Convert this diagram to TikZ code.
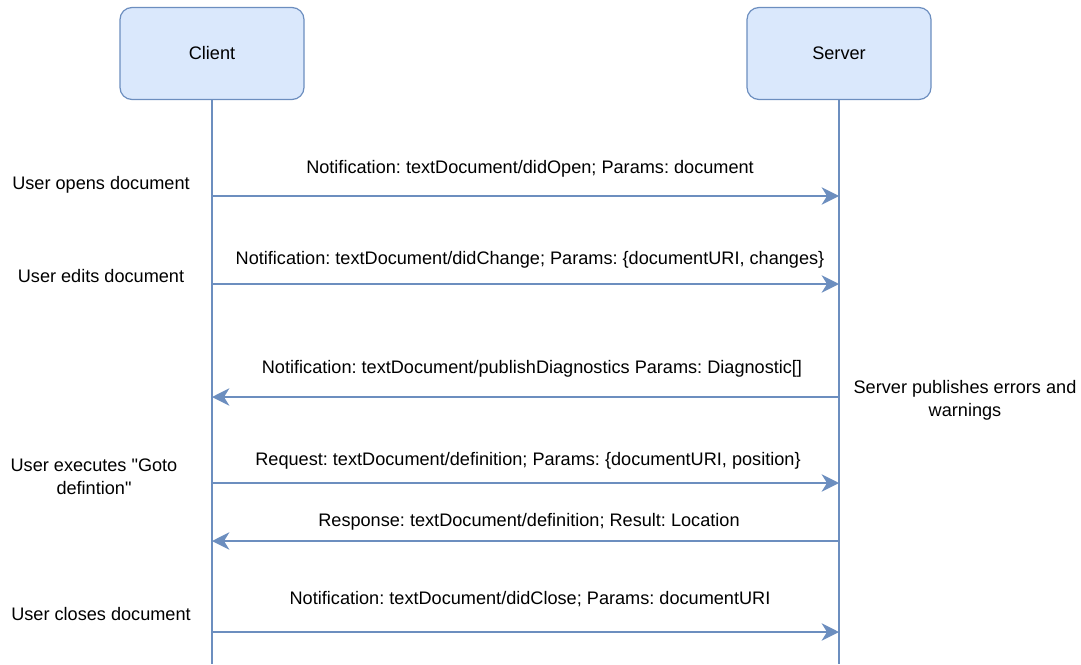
\documentclass[tikz,border=0pt]{standalone}
\usepackage{fontspec}
\setmainfont{Liberation Sans}
% same face without the TeX input mapping, for straight double quotes
\newfontfamily\plainquote{Liberation Sans}
\newcommand{\dq}{{\plainquote"}}
\usetikzlibrary{arrows.meta}
\definecolor{boxfill}{HTML}{DAE8FC}
\definecolor{boxline}{HTML}{6C8EBF}
\frenchspacing
\begin{document}
\begin{tikzpicture}[x=0.75pt,y=-0.75pt,
  actor/.style={draw=boxline,fill=boxfill,line width=0.9pt,rounded corners=9pt,
    minimum width=138pt,minimum height=69pt,inner sep=0pt,font=\fontsize{13.6}{16.5}\selectfont},
  lifeline/.style={draw=boxline,line width=1.6pt},
  msg/.style={draw=boxline,line width=1.6pt,
    -{Stealth[length=13pt,width=13pt,inset=4pt,fill=boxline]}},
  lbl/.style={inner sep=0pt,align=center,font=\fontsize{13.6}{17.25}\selectfont}]
\useasboundingbox (0,0) rectangle (1081,664);

% participants
\node[actor] (client) at (212,53.5) {Client};
\node[actor] (server) at (839,53.5) {Server};
\coordinate (cend) at (212,664);
\coordinate (send) at (839,664);
\draw[lifeline] (client.south) -- (cend);
\draw[lifeline] (server.south) -- (send);

% message anchors on the lifelines
\foreach \n/\y in {1/196,2/284,3/397,4/483,5/541,6/632}{
  \coordinate (c\n) at (212,\y);
  \coordinate (s\n) at (839,\y);
}

% messages
\draw[msg] (c1) -- (s1);
\draw[msg] (c2) -- (s2);
\draw[msg] (s3) -- (c3);
\draw[msg] (c4) -- (s4);
\draw[msg] (s5) -- (c5);
\draw[msg] (c6) -- (s6);

\node[lbl] (m1) at (530,169) {Notification: textDocument/didOpen; Params: document};
\node[lbl] (m2) at (530,260) {Notification: textDocument/didChange; Params: \{documentURI, changes\}};
\node[lbl] (m3) at (532,369) {Notification: textDocument/publishDiagnostics Params: Diagnostic[]};
\node[lbl] (m4) at (528,461) {Request: textDocument/definition; Params: \{documentURI, position\}};
\node[lbl] (m5) at (529,522) {Response: textDocument/definition; Result: Location};
\node[lbl] (m6) at (530,599) {Notification: textDocument/didClose; Params: documentURI};

% events
\node[lbl] (e1) at (101,185) {User opens document};
\node[lbl] (e2) at (101,276) {User edits document};
\node[lbl] (e3) at (94,477) {User executes \dq Goto\\defintion\dq};
\node[lbl] (e4) at (101,614) {User closes document};
\node[lbl] (e5) at (965,400) {Server publishes errors and\\warnings};
\end{tikzpicture}
\end{document}
